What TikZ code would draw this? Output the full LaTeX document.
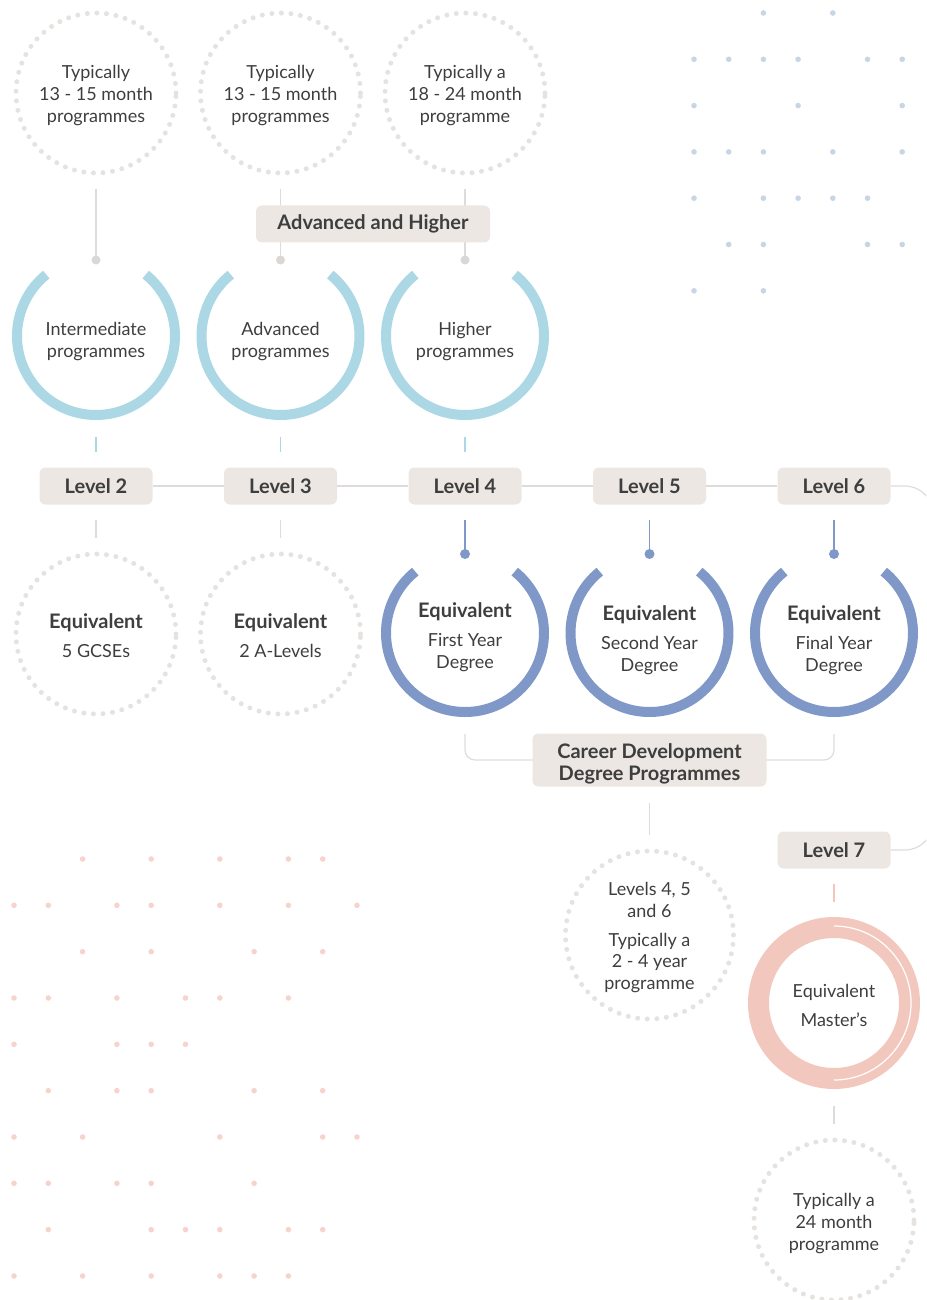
\documentclass[tikz,border=0pt]{standalone}
\usepackage{fontspec}
\setmainfont{Lato}
\usetikzlibrary{positioning}

\definecolor{boxbeige}{RGB}{236,231,227}
\definecolor{txtdark}{RGB}{62,62,62}
\definecolor{linegray}{RGB}{222,220,219}
\definecolor{ringgray}{RGB}{230,226,223}
\definecolor{knobgray}{RGB}{218,215,213}
\definecolor{lightblue}{RGB}{171,216,228}
\definecolor{degblue}{RGB}{127,152,200}
\definecolor{pinkring}{RGB}{242,200,190}
\definecolor{dotblue}{RGB}{199,213,231}
\definecolor{dotpink}{RGB}{247,212,203}

\newcommand{\lbltext}{\fontsize{9}{10.8}\selectfont}
\newcommand{\headtext}{\fontsize{10}{11}\selectfont\bfseries}

\tikzstyle{dotring} = [circle, draw=ringgray, line width=2.5pt, line cap=round, dash pattern=on 0pt off 4.8pt, minimum size=80pt, inner sep=0pt, outer sep=8pt, align=center, text=txtdark, font=\lbltext, text depth=0pt, text height=29.1pt]
\tikzstyle{arcnode} = [circle, minimum size=84pt, inner sep=0pt, outer sep=8.5pt, align=center, text=txtdark, font=\lbltext, text depth=0pt, text height=21.3pt]
\tikzstyle{tag} = [rectangle, rounded corners=3pt, fill=boxbeige, minimum width=56.5pt, minimum height=18.5pt, inner sep=2pt, align=center, text=txtdark, font=\headtext]
\tikzstyle{link} = [draw=linegray, line width=0.6pt]
\tikzstyle{bluelink} = [draw=degblue, line width=0.6pt]
\tikzstyle{lightarc} = [draw=lightblue, line width=5pt]
\tikzstyle{degarc} = [draw=degblue, line width=5pt]

\begin{document}
\begin{tikzpicture}[x=0.5pt, y=-0.5pt, node distance=92.25pt]
    \useasboundingbox (0,0) rectangle (926,1300);
    \clip (0,0) rectangle (926,1300);
    \foreach \r/\cs in {0/{2,4}, 1/{0,1,2,3,5,6}, 2/{0,3,6}, 3/{0,1,2,4,6}, 4/{0,2,3,4,5}, 5/{1,2,5,6}, 6/{0,2}}
        \foreach \c in \cs \fill[dotblue] ({694+34.7*\c},{13+46.3*\r}) circle (1.4pt);
    \foreach \r/\cs in {0/{2,4,6,8,9}, 1/{0,1,3,4,6,8,10}, 2/{2,4,7,9}, 3/{0,1,3,5,6,8}, 4/{0,3,4,5}, 5/{1,3,4,7,9}, 6/{0,2,6,9,10}, 7/{0,1,3,4,7}, 8/{1,4,5,6,8,9}, 9/{0,2,4,6,7,8}}
        \foreach \c in \cs \fill[dotpink] ({14+34.3*\c},{859+46.33*\r}) circle (1.4pt);

    \node (l2) [tag] at (96,486) {Level 2};
    \node (l3) [tag, right of=l2] {Level 3};
    \node (l4) [tag, right of=l3] {Level 4};
    \node (l5) [tag, right of=l4] {Level 5};
    \node (l6) [tag, right of=l5] {Level 6};
    \node (l7) [tag, below of=l6, node distance=182pt] {Level 7};
    \foreach \a/\b in {l2/l3, l3/l4, l4/l5, l5/l6} \draw [link] (\a) -- (\b);
    \draw [link, rounded corners=14pt] (l6.east) -- ++(42,0) |- (l7.east);

    \node (p2) [arcnode, above of=l2, node distance=75pt] {Intermediate\\programmes};
    \node (p3) [arcnode, above of=l3, node distance=75pt] {Advanced\\programmes};
    \node (p4) [arcnode, above of=l4, node distance=75pt] {Higher\\programmes};
    \node (t2) [dotring, above of=p2, node distance=121.5pt] {Typically\\13 - 15 month\\programmes};
    \node (t3) [dotring, above of=p3, node distance=121.5pt] {Typically\\13 - 15 month\\programmes};
    \node (t4) [dotring, above of=p4, node distance=121.5pt] {Typically a\\18 - 24 month\\programme};
    \foreach \n in {2,3,4} {
        \coordinate (k\n) at ([yshift=38pt]p\n.center);
        \draw [link] (t\n) -- (k\n);
        \fill [knobgray] (k\n) circle (2.25pt);
        \draw [draw=lightblue, line width=0.6pt, shorten >=7.5pt] (p\n) -- (l\n);
        \draw [lightarc] ([shift={(129:39.5pt)}]p\n.center) arc [start angle=129, end angle=411, radius=39.5pt];
    }
    \node (ah) [tag, minimum width=117pt] at (373,224) {Advanced and Higher};

    \node (q2) [dotring, text height=23.8pt, below of=l2, node distance=74pt] {{\headtext Equivalent}\\[3.7pt]5 GCSEs};
    \node (q3) [dotring, text height=23.8pt, below of=l3, node distance=74pt] {{\headtext Equivalent}\\[3.7pt]2 A-Levels};
    \foreach \n in {2,3} \draw [link, shorten <=7.5pt] (l\n) -- (q\n);

    \node (d4) [arcnode, text height=35.5pt, below of=l4, node distance=73.5pt] {{\headtext Equivalent}\\[3.7pt]First Year\\Degree};
    \node (d5) [arcnode, text height=38.5pt, below of=l5, node distance=73.5pt] {{\headtext Equivalent}\\[3.7pt]Second Year\\Degree};
    \node (d6) [arcnode, text height=38.5pt, below of=l6, node distance=73.5pt] {{\headtext Equivalent}\\[3.7pt]Final Year\\Degree};
    \foreach \n in {4,5,6} {
        \coordinate (e\n) at ([yshift=-34pt]l\n.center);
        \draw [bluelink, shorten <=7.5pt] (l\n) -- (e\n);
        \fill [degblue] (e\n) circle (2.5pt);
        \draw [degarc] ([shift={(129:39.5pt)}]d\n.center) arc [start angle=129, end angle=411, radius=39.5pt];
    }

    \coordinate (cc) at ([yshift=-137pt]l5.center);
    \draw [link, rounded corners=5pt] (d4) -- (d4 |- cc) -- (d6 |- cc) -- (d6);
    \node (cd) [tag, minimum width=117pt, minimum height=26.5pt, text depth=0pt, text height=20.2pt] at (cc) {Career Development\\Degree Programmes};
    \node (lv) [dotring, minimum size=84pt, text height=54.4pt, below of=cd, node distance=87.5pt] {Levels 4, 5\\and 6\\[3.7pt]Typically a\\2 - 4 year\\programme};
    \draw [link, shorten <=8pt] (cd) -- (lv);

    \node (m7) [circle, draw=pinkring, line width=10.5pt, fill=white, minimum size=75.5pt, inner sep=0pt, align=center, text=txtdark, font=\lbltext, text depth=0pt, text height=23pt, below of=l7, node distance=76.5pt] {Equivalent\\[3.7pt]Master's};
    \draw [white, line width=0.6pt] ([shift={(90:38.5pt)}]m7.center) arc [start angle=90, end angle=-90, radius=38.5pt];
    \draw [draw=pinkring, line width=0.6pt, shorten <=7.5pt, shorten >=7.5pt] (l7) -- (m7);
    \node (y7) [dotring, text height=30.1pt, below of=m7, node distance=108.5pt] {Typically a\\24 month\\programme};
    \draw [link, shorten <=8.5pt] (m7) -- (y7);
\end{tikzpicture}
\end{document}
